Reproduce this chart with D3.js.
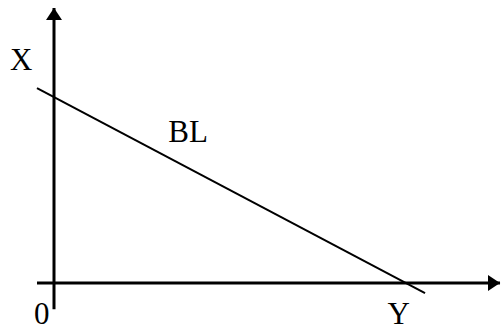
<!DOCTYPE html>
<html>
<head>
<meta charset="utf-8">
<script src="https://cdn.jsdelivr.net/npm/d3@7"></script>
<style>
  html, body { margin: 0; padding: 0; background: #fff; }
  svg { display: block; }
  text { font-family: "Liberation Serif", "Times New Roman", serif; fill: #000; }
</style>
</head>
<body>
<script>
// ---- data (abstract units) ----
const xAxisExtent = [-0.39, 10.23];     // horizontal axis (good Y)
const yAxisExtent = [-0.6, 6.31];       // vertical axis (good X)
const budgetLineX = [-0.39, 8.51];
const budgetLineY = [4.47, -0.23];
const labels = ["X", "BL", "0", "Y"];
const labelPosX = [-1.01, 2.62, -0.46, 7.65];
const labelPosY = [4.885, 3.24, -0.94, -0.94];

const W = 501, H = 327;
const svg = d3.select("body").append("svg").attr("width", W).attr("height", H);

const unit = 43.6;
const x = d3.scaleLinear().domain([0, 10]).range([54, 54 + 10 * unit]);
const y = d3.scaleLinear().domain([0, 6]).range([283, 283 - 6 * unit]);

// arrow markers
const defs = svg.append("defs");
defs.append("marker")
  .attr("id", "arrow")
  .attr("viewBox", "0 0 12 16")
  .attr("refX", 12).attr("refY", 8)
  .attr("markerWidth", 12).attr("markerHeight", 16)
  .attr("markerUnits", "userSpaceOnUse")
  .attr("orient", "auto")
  .append("path").attr("d", "M0,0 L12,8 L0,16 Z").attr("fill", "#000");

// horizontal axis
svg.append("line")
  .attr("x1", x(xAxisExtent[0])).attr("y1", y(0))
  .attr("x2", x(xAxisExtent[1])).attr("y2", y(0))
  .attr("stroke", "#000").attr("stroke-width", 3)
  .attr("marker-end", "url(#arrow)");

// vertical axis
svg.append("line")
  .attr("x1", x(0)).attr("y1", y(yAxisExtent[0]))
  .attr("x2", x(0)).attr("y2", y(yAxisExtent[1]))
  .attr("stroke", "#000").attr("stroke-width", 3)
  .attr("marker-end", "url(#arrow)");

// budget line
const pts = budgetLineX.map((v, i) => [v, budgetLineY[i]]);
svg.append("path")
  .datum(pts)
  .attr("d", d3.line().x(d => x(d[0])).y(d => y(d[1])))
  .attr("fill", "none").attr("stroke", "#000").attr("stroke-width", 2);

// labels
svg.selectAll("text.lbl").data(labels).enter().append("text")
  .attr("class", "lbl")
  .attr("x", (d, i) => x(labelPosX[i]))
  .attr("y", (d, i) => y(labelPosY[i]))
  .attr("font-size", 31)
  .text(d => d);
</script>
</body>
</html>
